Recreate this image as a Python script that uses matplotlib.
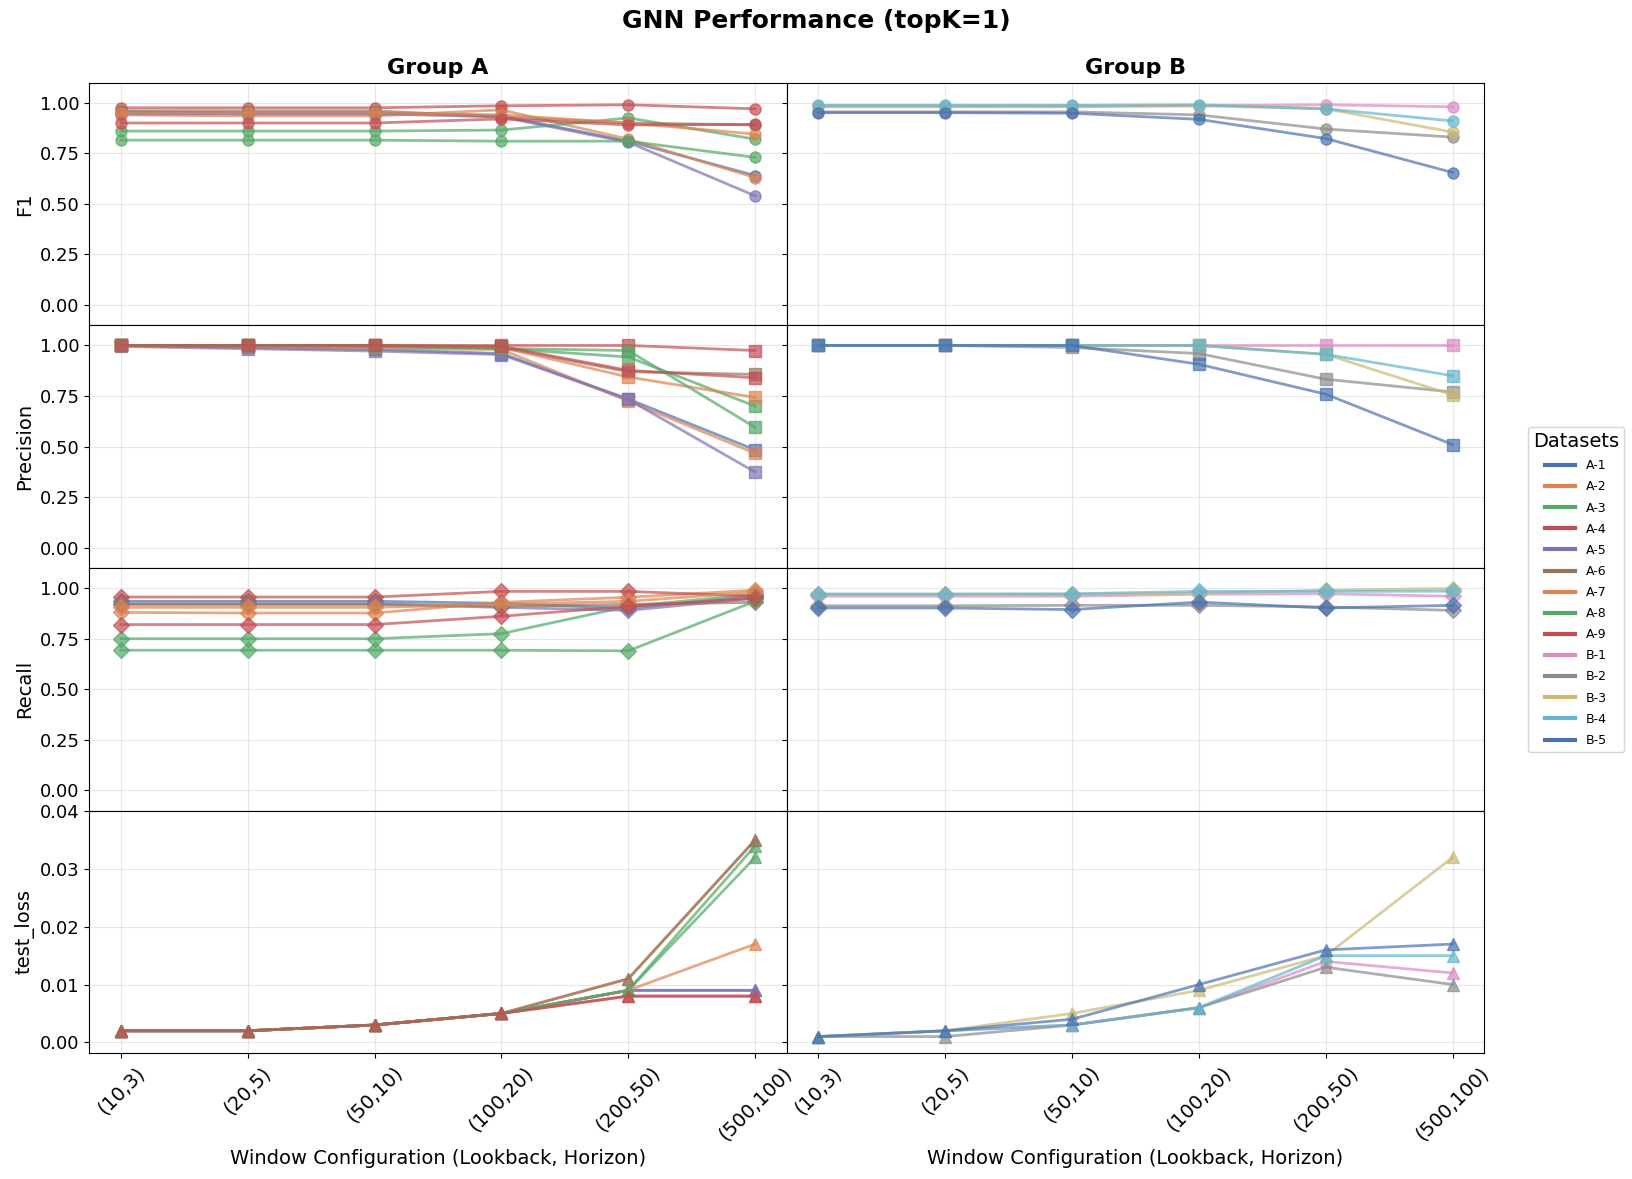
import matplotlib
matplotlib.use('Agg')
import matplotlib.pyplot as plt
from matplotlib.lines import Line2D

# window configs on the x axis
windows = ['(10,3)', '(20,5)', '(50,10)', '(100,20)', '(200,50)', '(500,100)']

datasets_a = ['A-1', 'A-2', 'A-3', 'A-4', 'A-5', 'A-6', 'A-7', 'A-8', 'A-9']
datasets_b = ['B-1', 'B-2', 'B-3', 'B-4', 'B-5']

colors = {
    'A-1': '#4C72B0', 'A-2': '#DD8452', 'A-3': '#55A868', 'A-4': '#C44E52',
    'A-5': '#8172B3', 'A-6': '#937860', 'A-7': '#DD8452', 'A-8': '#55A868',
    'A-9': '#C44E52', 'B-1': '#DA8BC3', 'B-2': '#8C8C8C', 'B-3': '#CCB974',
    'B-4': '#64B5CD', 'B-5': '#4C72B0',
}

# F1
f1 = {
    'A-1': [0.955, 0.950, 0.950, 0.935, 0.810, 0.640],
    'A-2': [0.940, 0.935, 0.935, 0.965, 0.820, 0.630],
    'A-3': [0.860, 0.860, 0.860, 0.865, 0.925, 0.820],
    'A-4': [0.975, 0.975, 0.975, 0.985, 0.990, 0.970],
    'A-5': [0.945, 0.945, 0.945, 0.930, 0.805, 0.540],
    'A-6': [0.960, 0.960, 0.960, 0.930, 0.900, 0.890],
    'A-7': [0.950, 0.950, 0.950, 0.940, 0.900, 0.845],
    'A-8': [0.815, 0.815, 0.815, 0.810, 0.810, 0.730],
    'A-9': [0.900, 0.900, 0.900, 0.920, 0.890, 0.893],
    'B-1': [0.980, 0.980, 0.980, 0.985, 0.990, 0.980],
    'B-2': [0.955, 0.955, 0.955, 0.940, 0.870, 0.830],
    'B-3': [0.985, 0.985, 0.985, 0.985, 0.970, 0.855],
    'B-4': [0.987, 0.987, 0.987, 0.990, 0.970, 0.910],
    'B-5': [0.951, 0.951, 0.948, 0.918, 0.823, 0.655],
}

# Precision
precision = {
    'A-1': [1.000, 0.990, 0.980, 0.960, 0.735, 0.484],
    'A-2': [1.000, 0.990, 0.985, 0.980, 0.725, 0.467],
    'A-3': [1.000, 1.000, 0.995, 0.985, 0.943, 0.700],
    'A-4': [1.000, 1.000, 1.000, 1.000, 1.000, 0.975],
    'A-5': [0.995, 0.984, 0.972, 0.955, 0.733, 0.374],
    'A-6': [1.000, 1.000, 1.000, 0.990, 0.870, 0.857],
    'A-7': [1.000, 1.000, 0.995, 0.990, 0.844, 0.743],
    'A-8': [1.000, 1.000, 0.995, 0.985, 0.975, 0.595],
    'A-9': [1.000, 1.000, 1.000, 0.995, 0.877, 0.840],
    'B-1': [1.000, 1.000, 1.000, 1.000, 1.000, 1.000],
    'B-2': [1.000, 1.000, 0.990, 0.960, 0.833, 0.770],
    'B-3': [1.000, 1.000, 1.000, 1.000, 0.956, 0.755],
    'B-4': [1.000, 1.000, 1.000, 1.000, 0.956, 0.850],
    'B-5': [1.000, 1.000, 1.000, 0.907, 0.759, 0.510],
}

# Recall
recall = {
    'A-1': [0.935, 0.935, 0.935, 0.925, 0.900, 0.960],
    'A-2': [0.880, 0.877, 0.877, 0.930, 0.955, 0.990],
    'A-3': [0.750, 0.750, 0.750, 0.775, 0.910, 0.970],
    'A-4': [0.956, 0.956, 0.956, 0.984, 0.984, 0.960],
    'A-5': [0.920, 0.920, 0.920, 0.905, 0.890, 0.950],
    'A-6': [0.922, 0.922, 0.922, 0.910, 0.920, 0.930],
    'A-7': [0.905, 0.905, 0.905, 0.920, 0.935, 0.980],
    'A-8': [0.693, 0.693, 0.693, 0.693, 0.690, 0.935],
    'A-9': [0.820, 0.820, 0.820, 0.861, 0.910, 0.950],
    'B-1': [0.960, 0.960, 0.960, 0.970, 0.972, 0.960],
    'B-2': [0.913, 0.913, 0.915, 0.915, 0.907, 0.890],
    'B-3': [0.970, 0.970, 0.970, 0.975, 0.990, 0.998],
    'B-4': [0.971, 0.971, 0.972, 0.984, 0.984, 0.985],
    'B-5': [0.902, 0.902, 0.894, 0.931, 0.902, 0.915],
}

# test loss
test_loss = {
    'A-1': [0.002, 0.002, 0.003, 0.005, 0.009, 0.009],
    'A-2': [0.002, 0.002, 0.003, 0.005, 0.011, 0.035],
    'A-3': [0.002, 0.002, 0.003, 0.005, 0.009, 0.034],
    'A-4': [0.002, 0.002, 0.003, 0.005, 0.008, 0.008],
    'A-5': [0.002, 0.002, 0.003, 0.005, 0.009, 0.009],
    'A-6': [0.002, 0.002, 0.003, 0.005, 0.011, 0.035],
    'A-7': [0.002, 0.002, 0.003, 0.005, 0.009, 0.017],
    'A-8': [0.002, 0.002, 0.003, 0.005, 0.009, 0.032],
    'A-9': [0.002, 0.002, 0.003, 0.005, 0.008, 0.008],
    'B-1': [0.001, 0.002, 0.003, 0.006, 0.014, 0.012],
    'B-2': [0.001, 0.001, 0.003, 0.006, 0.013, 0.010],
    'B-3': [0.001, 0.002, 0.005, 0.009, 0.015, 0.032],
    'B-4': [0.001, 0.002, 0.003, 0.006, 0.015, 0.015],
    'B-5': [0.001, 0.002, 0.004, 0.010, 0.016, 0.017],
}

metrics = [('F1', f1, 'o'), ('Precision', precision, 's'),
           ('Recall', recall, 'D'), ('test_loss', test_loss, '^')]
groups = [('Group A', datasets_a), ('Group B', datasets_b)]

fig, axes = plt.subplots(4, 2, figsize=(16.32, 11.79), dpi=100, sharex=True, sharey='row')
fig.subplots_adjust(left=0.0547, right=0.9095, top=0.930, bottom=0.1066, hspace=0, wspace=0)

x = list(range(len(windows)))
for r, (mname, mdata, marker) in enumerate(metrics):
    for c, (gname, names) in enumerate(groups):
        ax = axes[r, c]
        for name in names:
            ax.plot(x, mdata[name], marker=marker, color=colors[name], lw=2,
                    markersize=8, alpha=0.7)
        ax.grid(True, alpha=0.3)
        ax.tick_params(axis='y', labelsize=13)
        ax.tick_params(axis='x', labelsize=14)
        if r == 0:
            ax.set_title(gname, fontsize=16, fontweight='bold')
        if c == 0:
            ax.set_ylabel(mname, fontsize=14)
        if r == 3:
            ax.set_xlabel('Window Configuration (Lookback, Horizon)', fontsize=14)
    if mname == 'test_loss':
        axes[r, 0].set_ylim(-0.0019, 0.0401)
        axes[r, 0].set_yticks([0.0, 0.01, 0.02, 0.03, 0.04])
    else:
        axes[r, 0].set_ylim(-0.1, 1.1)
        axes[r, 0].set_yticks([0.0, 0.25, 0.5, 0.75, 1.0])

for ax in axes[3]:
    ax.set_xlim(-0.25, 5.25)
    ax.set_xticks(x)
    ax.set_xticklabels(windows, rotation=45)

fig.suptitle('GNN Performance (topK=1)', fontsize=18, fontweight='bold', y=0.992)

handles = [Line2D([0], [0], color=colors[n], lw=3) for n in datasets_a + datasets_b]
fig.legend(handles, datasets_a + datasets_b, title='Datasets', loc='center right',
           bbox_to_anchor=(0.999, 0.5), fontsize=9, title_fontsize=14,
           labelspacing=0.65, handlelength=2.4)

fig.savefig('out.png', dpi=100)
